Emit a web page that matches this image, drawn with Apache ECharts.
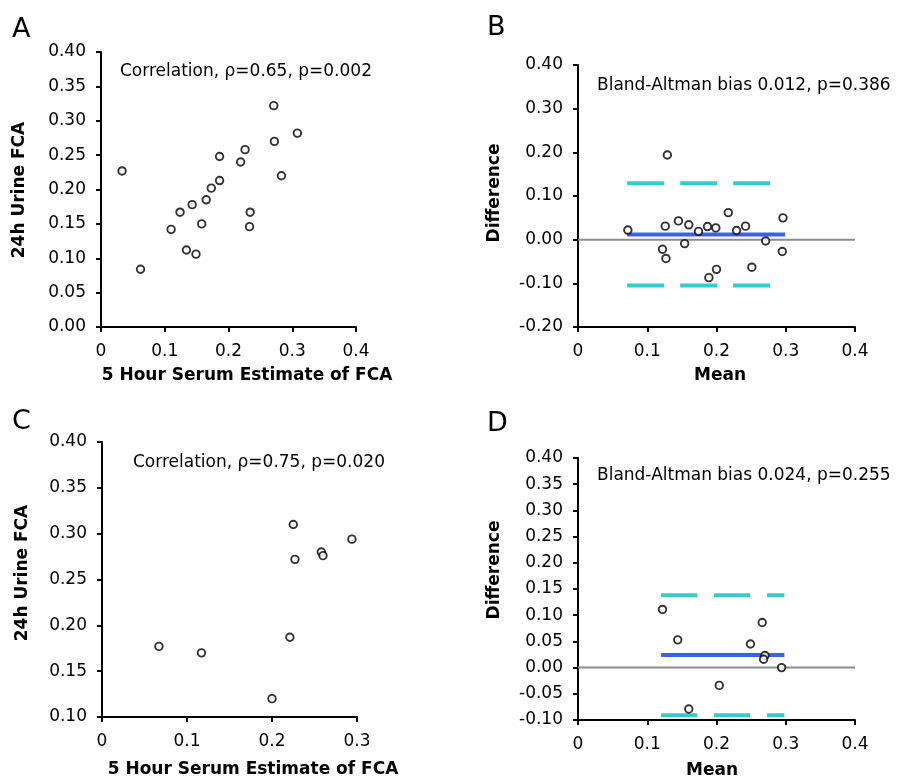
<!DOCTYPE html>
<html><head><meta charset="utf-8">
<script src="https://cdn.jsdelivr.net/npm/echarts@6/dist/echarts.min.js"></script>
<style>html,body{margin:0;padding:0;background:#fff}#c{width:901px;height:780px}</style>
</head><body><div id="c"></div>
<script>
// ---- Panel A: correlation (first group) ----
const serumA = [0.033,0.062,0.110,0.124,0.134,0.143,0.149,0.158,0.165,0.173,0.186,0.186,0.219,0.226,0.234,0.233,0.271,0.272,0.283,0.308];
const urineA = [0.227,0.084,0.142,0.167,0.112,0.178,0.106,0.150,0.185,0.202,0.213,0.248,0.240,0.258,0.167,0.146,0.322,0.270,0.220,0.282];
// ---- Panel B: Bland-Altman (first group) ----
const meanB = [0.072,0.126,0.129,0.122,0.127,0.145,0.154,0.160,0.174,0.187,0.189,0.199,0.200,0.217,0.229,0.242,0.271,0.251,0.296,0.295];
const diffB = [0.022,0.031,0.194,-0.022,-0.043,0.043,-0.009,0.034,0.019,0.030,-0.087,0.027,-0.068,0.062,0.021,0.031,-0.003,-0.063,0.050,-0.027];
const biasB = 0.012;
const loaB = [0.129, -0.105];
const rangeB = [0.071, 0.299];
// ---- Panel C: correlation (second group) ----
const serumC = [0.067,0.117,0.200,0.221,0.225,0.227,0.258,0.260,0.294];
const urineC = [0.177,0.170,0.120,0.187,0.310,0.272,0.280,0.276,0.294];
// ---- Panel D: Bland-Altman (second group) ----
const meanD = [0.122,0.144,0.160,0.204,0.249,0.266,0.270,0.268,0.294];
const diffD = [0.111,0.053,-0.079,-0.034,0.045,0.086,0.023,0.016,0.000];
const biasD = 0.024;
const loaD = [0.138, -0.091];
const rangeD = [0.120, 0.298];
// ---- texts ----
const panelLetters = ['A','B','C','D'];
const notes = ['Correlation, \u03c1=0.65, p=0.002','Bland-Altman bias 0.012, p=0.386','Correlation, \u03c1=0.75, p=0.020','Bland-Altman bias 0.024, p=0.255'];
const xTitles = ['5 Hour Serum Estimate of FCA','Mean','5 Hour Serum Estimate of FCA','Mean'];
const yTitles = ['24h Urine FCA','Difference','24h Urine FCA','Difference'];

const FONT = 'DejaVu Sans';
const CYAN = '#33cccc', BLUE = '#3a62e6', GRAY = '#8c8c8c';

function xAx(g, max, interval){
  return {type:'value', gridIndex:g, min:0, max:max, interval:interval,
    axisLine:{show:true, onZero:false, lineStyle:{color:'#000', width:2}},
    axisTick:{show:true, length:5, lineStyle:{color:'#000', width:2}},
    axisLabel:{color:'#000', fontFamily:FONT, fontSize:17, margin:16,
      formatter:v=> Math.abs(v)<1e-9 ? '0' : v.toFixed(1)},
    splitLine:{show:false}};
}
function yAx(g, min, max, interval){
  return {type:'value', gridIndex:g, min:min, max:max, interval:interval,
    axisLine:{show:true, onZero:false, lineStyle:{color:'#000', width:2}},
    axisTick:{show:true, length:5, lineStyle:{color:'#000', width:2}},
    axisLabel:{color:'#000', fontFamily:FONT, fontSize:17, margin:15,
      formatter:v=> (Math.abs(v)<1e-9 ? 0 : v).toFixed(2)},
    splitLine:{show:false}};
}
function pts(xs, ys){ return xs.map((x,i)=>[x, ys[i]]); }
function scatter(i, xs, ys){
  return {type:'scatter', xAxisIndex:i, yAxisIndex:i, data:pts(xs,ys), symbol:'circle', symbolSize:7.5,
    itemStyle:{color:'#fff', borderColor:'#000', borderWidth:1.9}, z:10, silent:true};
}
function hline(i, x0, x1, y, color, width, type){
  return {type:'line', xAxisIndex:i, yAxisIndex:i, data:[[x0,y],[x1,y]], symbol:'none',
    lineStyle:{color:color, width:width, type:type, cap:'butt'}, silent:true, animation:false, z:3};
}
function txt(x, y, s, size, weight, rot, align){
  return {type:'text', x:x, y:y, rotation:rot||0,
    style:{text:s, fill:'#000', fontSize:size, fontFamily:FONT, fontWeight:weight||'normal',
      align:align||'center', verticalAlign:'middle', textAlign:align||'center', textVerticalAlign:'middle'}};
}

const option = {
  backgroundColor:'#fff',
  animation:false,
  grid:[
    {left:101, top:52, width:255, height:275},
    {left:578, top:65, width:277, height:262},
    {left:102, top:442, width:255, height:275},
    {left:578, top:458, width:277, height:262}
  ],
  xAxis:[xAx(0,0.4,0.1), xAx(1,0.4,0.1), xAx(2,0.3,0.1), xAx(3,0.4,0.1)],
  yAxis:[yAx(0,0,0.4,0.05), yAx(1,-0.2,0.4,0.1), yAx(2,0.1,0.4,0.05), yAx(3,-0.1,0.4,0.05)],
  series:[
    scatter(0, serumA, urineA),
    hline(1, 0, 0.4, 0, GRAY, 2, 'solid'),
    hline(1, rangeB[0], rangeB[1], loaB[0], CYAN, 4, [37,16]),
    hline(1, rangeB[0], rangeB[1], loaB[1], CYAN, 4, [37,16]),
    hline(1, rangeB[0], rangeB[1], biasB, BLUE, 4, 'solid'),
    scatter(1, meanB, diffB),
    scatter(2, serumC, urineC),
    hline(3, 0, 0.4, 0, GRAY, 2, 'solid'),
    hline(3, rangeD[0], rangeD[1], loaD[0], CYAN, 4, [36,17]),
    hline(3, rangeD[0], rangeD[1], loaD[1], CYAN, 4, [36,17]),
    hline(3, rangeD[0], rangeD[1], biasD, BLUE, 4, 'solid'),
    scatter(3, meanD, diffD)
  ],
  graphic:[
    txt(12, 30, panelLetters[0], 27, 'normal', 0, 'left'),
    txt(487, 28, panelLetters[1], 27, 'normal', 0, 'left'),
    txt(12, 422, panelLetters[2], 27, 'normal', 0, 'left'),
    txt(487, 424, panelLetters[3], 27, 'normal', 0, 'left'),
    txt(120, 72, notes[0], 17, 'normal', 0, 'left'),
    txt(597, 86, notes[1], 17, 'normal', 0, 'left'),
    txt(133, 463, notes[2], 17, 'normal', 0, 'left'),
    txt(597, 476, notes[3], 17, 'normal', 0, 'left'),
    txt(247, 376, xTitles[0], 17, 'bold'),
    txt(720, 376, xTitles[1], 17, 'bold'),
    txt(253, 770, xTitles[2], 17, 'bold'),
    txt(712, 771, xTitles[3], 17, 'bold'),
    txt(20, 190, yTitles[0], 17, 'bold', Math.PI/2),
    txt(495, 193, yTitles[1], 17, 'bold', Math.PI/2),
    txt(23, 573, yTitles[2], 17, 'bold', Math.PI/2),
    txt(495, 570, yTitles[3], 17, 'bold', Math.PI/2)
  ]
};
const chart = echarts.init(document.getElementById('c'), null, {renderer:'canvas'});
chart.setOption(option);
</script>
</body></html>
